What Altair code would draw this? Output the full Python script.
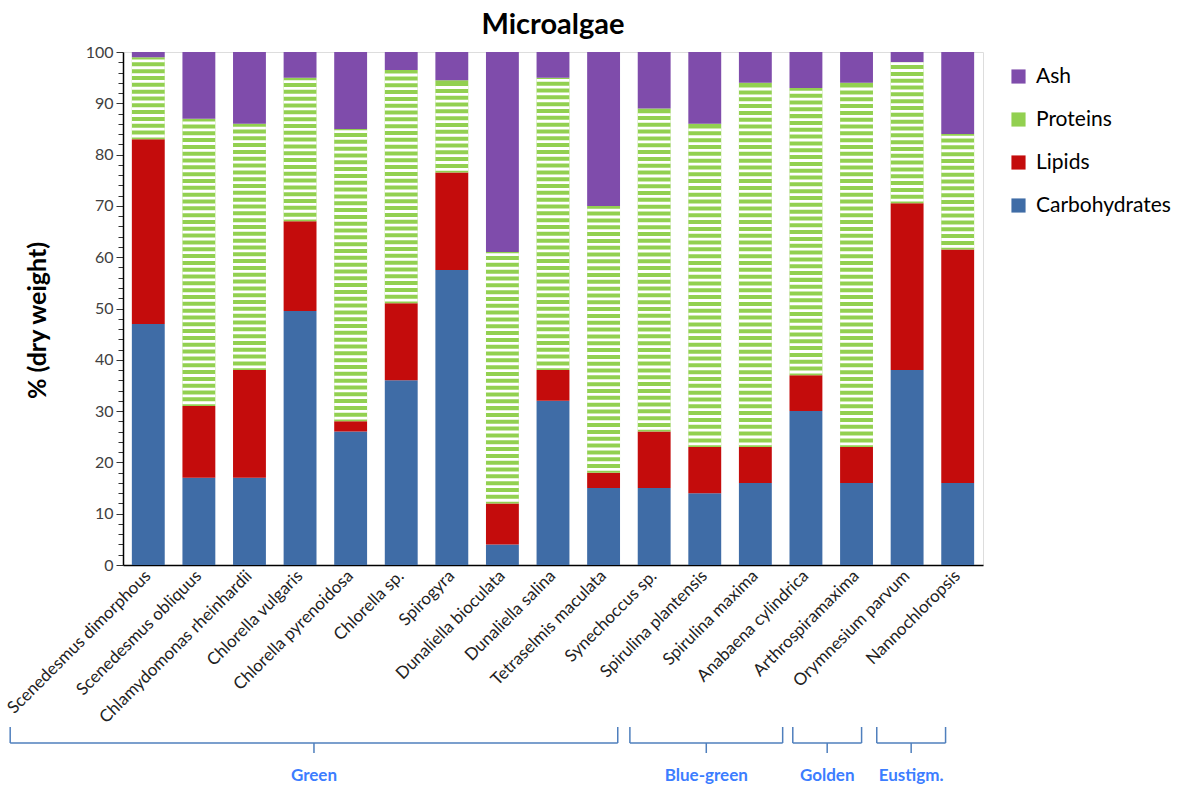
import altair as alt
import pandas as pd

species = [
    "Scenedesmus dimorphous", "Scenedesmus obliquus", "Chlamydomonas rheinhardii",
    "Chlorella vulgaris", "Chlorella pyrenoidosa", "Chlorella sp.", "Spirogyra",
    "Dunaliella bioculata", "Dunaliella salina", "Tetraselmis maculata",
    "Synechoccus sp.", "Spirulina plantensis", "Spirulina maxima",
    "Anabaena cylindrica", "Arthrospiramaxima", "Orymnesium parvum", "Nannochloropsis",
]
carbohydrates = [47, 17, 17, 49.5, 26, 36, 57.5, 4, 32, 15, 15, 14, 16, 30, 16, 38, 16]
lipids = [36, 14, 21, 17.5, 2, 15, 19, 8, 6, 3, 11, 9, 7, 7, 7, 32.5, 45.5]
proteins = [16, 56, 48, 28, 57, 45.5, 18, 49, 57, 52, 63, 63, 71, 56, 71, 27.5, 22.5]
ash = [1, 13, 14, 5, 15, 3.5, 5.5, 39, 5, 30, 11, 14, 6, 7, 6, 2, 16]

components = ["Carbohydrates", "Lipids", "Proteins", "Ash"]
legend_order = ["Ash", "Proteins", "Lipids", "Carbohydrates"]
legend_colors = ["#7f4cab", "#92d050", "#c40c0c", "#3f6ca6"]

groups = ["Green", "Blue-green", "Golden", "Eustigm."]
group_from = [-2.23, 10.02, 13.24, 14.9]   # in category-step units
group_to = [9.78, 13.04, 14.6, 16.26]

rows = []
for i, sp in enumerate(species):
    vals = [carbohydrates[i], lipids[i], proteins[i], ash[i]]
    for k, comp in enumerate(components):
        rows.append({"species": sp, "component": comp, "value": vals[k], "order": k})
df = pd.DataFrame(rows)

prot_df = pd.DataFrame({
    "species": species,
    "lo": [c + l for c, l in zip(carbohydrates, lipids)],
    "hi": [c + l + p for c, l, p in zip(carbohydrates, lipids, proteins)],
})
gdf = pd.DataFrame({"group": groups, "x_from": group_from, "x_to": group_to})

W, H = 860, 513
FONT = "Lato"
x_scale = alt.Scale(domain=species, paddingInner=0.35, paddingOuter=0.175)
y_scale = alt.Scale(domain=[0, 100], nice=False)

x_axis = alt.Axis(title=None, labelAngle=-45, labelAlign="right", labelBaseline="middle",
                  labelFontSize=17, labelColor="#222222", labelPadding=8, ticks=False,
                  domainColor="#000000", domainWidth=1.5, labelFont=FONT, labelLimit=400)
y_axis = alt.Axis(title="% (dry weight)", values=list(range(0, 101, 2)),
                  labelExpr="datum.value % 10 === 0 ? datum.label : ''",
                  tickSize={"condition": {"test": "datum.value % 10 === 0", "value": 7}, "value": 5},
                  tickColor="#333333", tickWidth=1, domainColor="#000000", domainWidth=1.5,
                  labelFontSize=16, labelColor="#404040", labelPadding=3, labelFont=FONT,
                  titleFontSize=25, titleFontWeight="bold", titleColor="#000000",
                  titleX=-73, titleY=268, titleFont=FONT, grid=False)

bars = alt.Chart(df).mark_bar().encode(
    x=alt.X("species:N", scale=x_scale, sort=species, axis=x_axis),
    y=alt.Y("value:Q", stack="zero", scale=y_scale, axis=y_axis),
    color=alt.Color("component:N",
                    scale=alt.Scale(domain=legend_order, range=legend_colors),
                    legend=alt.Legend(title=None, orient="none", legendX=885, legendY=14,
                                      symbolType="square", symbolSize=200, symbolStrokeWidth=0,
                                      labelFontSize=21, labelFont=FONT, labelColor="#000000",
                                      rowPadding=21, labelOffset=7)),
    order=alt.Order("order:Q", sort="ascending"),
)

stripes = alt.Chart(prot_df).transform_calculate(
    s="sequence(datum.lo + 0.35, datum.hi - 0.4, 1.33)"
).transform_flatten(["s"]).transform_calculate(
    s2="datum.s + 0.55"
).mark_bar(color="white").encode(
    x=alt.X("species:N", scale=x_scale, sort=species, axis=None),
    y=alt.Y("s:Q", scale=y_scale, axis=y_axis),
    y2="s2:Q",
)

brace_color = "#4f7fbd"
gx = alt.Scale(domain=[0, 17], nice=False, zero=False)
base_g = alt.Chart(gdf).transform_calculate(mid="(datum.x_from + datum.x_to) / 2")
h_line = base_g.mark_rule(color=brace_color, strokeWidth=1.5).encode(
    x=alt.X("x_from:Q", scale=gx, axis=None), x2="x_to:Q", y=alt.value(691))
l_end = base_g.mark_rule(color=brace_color, strokeWidth=1.5).encode(
    x=alt.X("x_from:Q", scale=gx, axis=None), y=alt.value(675), y2=alt.value(691))
r_end = base_g.mark_rule(color=brace_color, strokeWidth=1.5).encode(
    x=alt.X("x_to:Q", scale=gx, axis=None), y=alt.value(675), y2=alt.value(691))
c_tick = base_g.mark_rule(color=brace_color, strokeWidth=1.5).encode(
    x=alt.X("mid:Q", scale=gx, axis=None), y=alt.value(691), y2=alt.value(701))
g_text = base_g.mark_text(color="#3c7dff", fontSize=17, fontWeight="bold", font=FONT,
                          baseline="middle").encode(
    x=alt.X("mid:Q", scale=gx, axis=None), y=alt.value(724), text="group:N")

chart = alt.layer(bars, stripes, h_line, l_end, r_end, c_tick, g_text).resolve_scale(
    x="independent"
).properties(
    width=W, height=H,
    autosize=alt.AutoSizeParams(type="none"),
    padding={"left": 123, "top": 52, "right": 197, "bottom": 220},
    title=alt.TitleParams("Microalgae", fontSize=29, fontWeight="bold", font=FONT,
                          anchor="middle", offset=4, color="#000000"),
).configure_view(stroke="#595959", strokeWidth=1).configure(font=FONT, background="white")

chart.save("out.html", embed_options={"renderer": "svg", "actions": False})
